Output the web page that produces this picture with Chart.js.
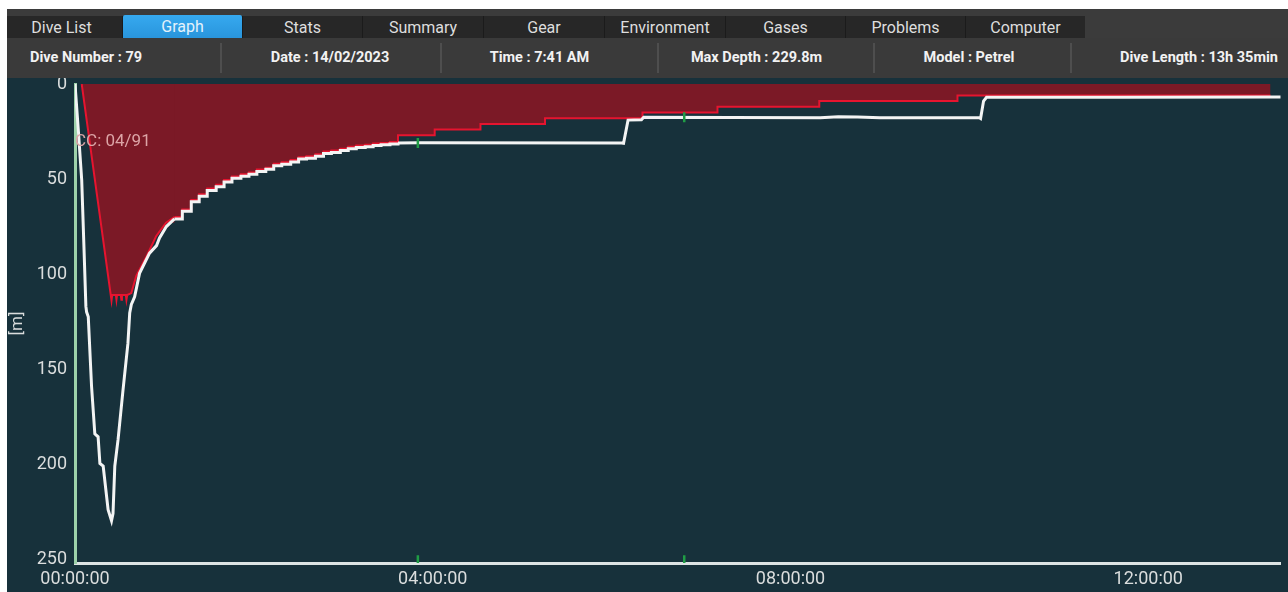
<!DOCTYPE html>
<html>
<head>
<meta charset="utf-8">
<script src="https://cdn.jsdelivr.net/npm/chart.js@4"></script>
<style>
  html,body{margin:0;padding:0;background:#ffffff;}
  body{width:1288px;height:592px;overflow:hidden;position:relative;font-family:Roboto, "Noto Sans", sans-serif;}
  #panel{position:absolute;left:7px;top:78px;width:1281px;height:514px;background:#17313b;}
  #chartwrap{position:absolute;left:7px;top:0;width:1281px;height:592px;z-index:1;}
  #tabstrip{position:absolute;left:7px;top:9px;width:1281px;height:29px;background:#3b3b3b;z-index:2;}
  #tabrow{position:absolute;left:0;top:7px;width:1078px;height:22px;background:#1b1b1b;}
  .tab{position:absolute;top:0;height:22px;background:#272727;color:#dedede;font-size:16px;line-height:23px;text-align:center;}
  .tab.active{background:linear-gradient(#36a9ef,#2995dc);color:#e4f2fb;border-radius:2px 2px 0 0;top:-1px;height:23px;}
  #infobar{position:absolute;left:7px;top:38px;width:1281px;height:40px;background:#3a3a3a;z-index:2;}
  .info{position:absolute;top:0;line-height:40px;font-weight:bold;font-size:14.5px;color:#f2f2f2;transform:translateX(-50%);white-space:nowrap;}
  .sep{position:absolute;top:5px;width:2px;height:30px;background:#4e4e4e;}
  #cc{position:absolute;left:75px;top:130px;font-size:17px;line-height:20px;color:#dca4a6;z-index:3;}
</style>
</head>
<body>
<div id="panel"></div>
<div id="chartwrap"><canvas id="c" width="1281" height="592"></canvas></div>
<div id="tabstrip"><div id="tabrow"></div></div>
<div id="infobar"></div>
<div id="cc">CC: 04/91</div>
<script>
// ---- header content ----
const tabNames = ["Dive List","Graph","Stats","Summary","Gear","Environment","Gases","Problems","Computer"];
const infoTexts = ["Dive Number : 79","Date : 14/02/2023","Time : 7:41 AM","Max Depth : 229.8m","Model : Petrel","Dive Length : 13h 35min"];

// ---- depth profile (time in minutes, depth in metres) ----
const descentTimes  = [0, 2.2, 4.5, 6, 7.3, 7.8, 8.9, 11.1, 13.3, 15.5, 16.7, 18.9, 22.2, 24.5, 25.5, 26.7, 28.9, 32.2, 35.5, 36.7, 37.8, 40, 43.3, 50, 54.7, 56.7, 61.3, 66.7];
const descentDepths = [0, 24, 50.5, 85.6, 117, 120, 122.5, 159, 184, 185.6, 199.6, 201, 224, 229.8, 226, 201, 187, 161, 136.5, 120.5, 116, 112, 99.6, 89, 85, 81, 75, 71];

const stepTimes  = [66.7, 72, 78, 83.3, 88.7, 94.7, 100, 105.3, 111.3, 116.7, 122, 128, 133.3, 138.7, 144.7, 150, 155.3, 161.3, 166.7, 172, 178, 183.3, 188.7, 194.7, 200, 205.3, 211.3, 216.7];
const stepDepths = [71, 67, 62, 59, 56, 54, 51.5, 49.6, 48.5, 47.5, 46, 44.9, 43, 42.2, 41, 39.5, 39, 38, 36.5, 36, 35, 34, 33.4, 33, 32.3, 32, 31.5, 31];

const lateTimes  = [216.7, 230, 366.7, 368, 371, 380, 381.5, 500, 512, 525, 540, 606.7, 607.5, 609.5, 611.5, 700, 815];
const lateDepths = [31, 30.9, 31, 31.2, 19, 18.8, 17.5, 17.8, 17.2, 17.4, 17.8, 17.8, 18.2, 9, 7, 7, 6.8];

// ---- decompression ceiling ----
const ceilATimes  = [4.5, 24.5, 25, 27.4, 27.8, 28.2, 30.7, 31.1, 31.5, 34.1, 34.5, 35, 37.8, 41.1, 47.8, 54.5, 61.1, 66.7];
const ceilADepths = [0, 114, 111, 111, 113.5, 111, 111, 113.5, 111, 111, 113.5, 111, 110, 101, 91, 80, 73, 70];

const ceilBTimes  = [61.1, 66.7, 72, 78, 83.3, 88.7, 94.7, 100, 105.3, 111.3, 116.7, 122, 128, 133.3, 138.7, 144.7, 150, 155.3, 161.3, 166.7, 172, 178, 183.3, 188.7, 194.7, 200, 205.3, 211.3, 216.7, 241.3, 272, 315.3, 380.7, 431, 499.3, 592, 802, 802];
const ceilBDepths = [73, 70, 66, 61, 58, 55, 53, 50.5, 48.6, 47.5, 46.5, 45, 44, 42, 41.2, 40, 38.5, 38, 37, 35.5, 35, 34, 33, 32.4, 32, 31.3, 31, 30.5, 27, 24, 21, 18, 15, 12, 9, 6, 6, 0];

// ---- event markers ----
const eventTimes  = [230, 408.7, 230, 408.7];
const eventDepths = [31, 17.5, 250.6, 250.6];

// ---- axes ----
const xTicks = [0, 240, 480, 720];
const yTicks = [0, 50, 100, 150, 200, 250];

// build header
const tabLefts = [0, 116, 236, 356, 477, 598, 719, 839, 959];
const tabWidths = [115, 119, 119, 120, 120, 120, 119, 119, 119];
const tabrow = document.getElementById('tabrow');
tabNames.forEach((n, i) => {
  const d = document.createElement('div');
  d.className = 'tab' + (n === 'Graph' ? ' active' : '');
  d.style.left = tabLefts[i] + 'px';
  d.style.width = tabWidths[i] + 'px';
  d.textContent = n;
  if (i === 0) d.style.textIndent = '-6px';
  tabrow.appendChild(d);
});
const infoCenters = [79, 323, 532.5, 749.5, 962, 1192];
const sepX = [213, 433, 650, 866, 1063];
const infobar = document.getElementById('infobar');
infoTexts.forEach((t, i) => {
  const s = document.createElement('div');
  s.className = 'info';
  s.style.left = infoCenters[i] + 'px';
  s.textContent = t;
  infobar.appendChild(s);
});
sepX.forEach(x => {
  const s = document.createElement('div');
  s.className = 'sep';
  s.style.left = x + 'px';
  infobar.appendChild(s);
});

const zip = (xs, ys) => xs.map((x, i) => ({x: x, y: ys[i]}));
const pad2 = n => String(n).padStart(2, '0');
const fmt = v => { const m = Math.round(v); return pad2(Math.floor(m / 60)) + ':' + pad2(m % 60) + ':00'; };

const WHITE = '#f3f4f4';
const RED = '#e6142f';
const FILL = '#7b1926';
const ceilB = zip(ceilBTimes, ceilBDepths);

Chart.defaults.font.family = 'Roboto';

new Chart(document.getElementById('c'), {
  type: 'line',
  data: {
    datasets: [
      { data: zip(eventTimes, eventDepths), showLine: false, pointStyle: 'line', rotation: 90,
        pointRadius: 5, pointBorderColor: '#1f9d45', pointBorderWidth: 2.5, order: -1 },
      { data: zip(descentTimes, descentDepths), borderColor: WHITE, borderWidth: 3, pointRadius: 0, order: 0 },
      { data: zip(stepTimes, stepDepths), borderColor: WHITE, borderWidth: 3, pointRadius: 0, stepped: 'before', order: 0 },
      { data: zip(lateTimes, lateDepths), borderColor: WHITE, borderWidth: 3, pointRadius: 0, order: 0 },
      // ceiling outlines
      { data: zip(ceilATimes, ceilADepths), borderColor: RED, borderWidth: 2, pointRadius: 0, order: 1 },
      { data: ceilB.slice(1, -1), borderColor: RED, borderWidth: 2, pointRadius: 0, stepped: 'before', order: 1 },
      // ceiling fills
      { data: zip(ceilATimes, ceilADepths), borderWidth: 0, borderColor: 'rgba(0,0,0,0)', pointRadius: 0,
        fill: {value: 0}, backgroundColor: FILL, order: 3 },
      { data: ceilB, borderWidth: 0, borderColor: 'rgba(0,0,0,0)', pointRadius: 0,
        stepped: 'before', fill: {value: 0}, backgroundColor: FILL, order: 4 }
    ]
  },
  options: {
    responsive: false,
    animation: false,
    layout: { padding: { top: 84, left: 0, right: 0, bottom: 0 } },
    plugins: { legend: { display: false }, tooltip: { enabled: false } },
    elements: { line: { tension: 0 } },
    scales: {
      x: {
        type: 'linear', min: 0, max: 808.7,
        grid: { display: false, drawTicks: false },
        border: { display: true, color: '#dde4e4', width: 3 },
        afterBuildTicks: s => { s.ticks = xTicks.map(v => ({value: v})); },
        ticks: { color: '#dadddd', font: { size: 18 }, padding: 6, maxRotation: 0, autoSkip: false,
                 callback: v => fmt(v) },
        afterFit: s => { s.height = 29; }
      },
      y: {
        type: 'linear', reverse: true, min: 0, max: 252,
        grid: { display: false, drawTicks: false },
        border: { display: true, color: '#9dd1aa', width: 3 },
        afterBuildTicks: s => { s.ticks = yTicks.map(v => ({value: v})); },
        ticks: { color: '#dadddd', font: { size: 18 }, padding: 8 },
        title: { display: true, text: '[m]', color: '#dadddd', font: { size: 17 }, padding: { top: 1, bottom: 0 } },
        afterFit: s => { s.width = 68; }
      }
    }
  }
});
</script>
</body>
</html>
